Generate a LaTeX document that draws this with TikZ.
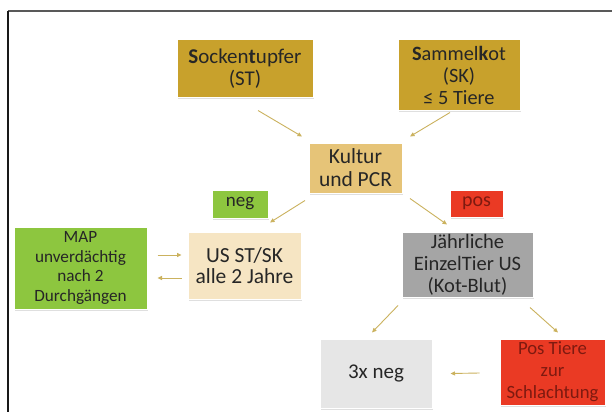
\documentclass[tikz,border=0pt]{standalone}
\usepackage{fontspec}
\setmainfont{Carlito}
\usetikzlibrary{arrows.meta,calc,shadows}
\definecolor{gold}{HTML}{C8A12C}
\definecolor{kult}{HTML}{E6C478}
\definecolor{grn}{HTML}{8DC63F}
\definecolor{beige}{HTML}{F6E5C3}
\definecolor{gry}{HTML}{A5A5A5}
\definecolor{lgry}{HTML}{E6E6E6}
\definecolor{rd}{HTML}{EA3A24}
\definecolor{rdtxt}{HTML}{7E1A10}
\definecolor{txt}{HTML}{262626}
\definecolor{arrc}{HTML}{CBB25E}
\tikzset{
  box/.style={draw=white, line width=1pt, inner sep=0pt, align=center, text=txt,
    drop shadow={shadow xshift=1pt, shadow yshift=-1.5pt, opacity=0.25, fill=gray}},
  fs/.style 2 args={font=\fontsize{#1}{#2}\selectfont},
  arr/.style={draw=arrc, line width=0.9pt, -{Triangle[length=4.5pt,width=4pt]}},
}
\begin{document}
\begin{tikzpicture}[x=1pt,y=-1pt]
\useasboundingbox (0,0) rectangle (612,412);
\fill[white] (0,0) rectangle (612,412);
\draw[color=black!65, line width=1.4pt] (8,11) -- (612,11);
\draw[color=black!90, line width=1.4pt] (8,11) -- (8,412);

\node[box, fs={21}{22}, fill=gold, minimum width=136, minimum height=57] (st) at (245,68.5)
  {\textbf{S}ocken\textbf{t}upfer\\(ST)};
\node[box, fs={20.3}{22}, fill=gold, minimum width=122, minimum height=70] (sk) at (459,75)
  {\textbf{S}ammel\textbf{k}ot\\(SK)\\≤ 5 Tiere};
\node[box, fs={21.5}{23}, fill=kult, minimum width=93, minimum height=50] (kultur) at (355.5,168)
  {Kultur\\und PCR};
\node[box, fs={19}{20}, fill=grn, minimum width=56, minimum height=28] (neg) at (240,204) {neg};
\node[box, fs={20}{20}, fill=rd, text=rdtxt, minimum width=53, minimum height=27] (pos) at (476.5,203.5) {pos};
\node[box, fs={17.2}{19.5}, fill=grn, minimum width=133, minimum height=82] (map) at (80.5,268)
  {MAP\\unverdächtig\\nach 2\\Durchgängen};
\node[box, fs={21.5}{21}, fill=beige, minimum width=113, minimum height=67] (us) at (244.5,265.5)
  {US ST/SK\\alle 2 Jahre};
\node[box, fs={20.5}{22}, fill=gry, minimum width=131, minimum height=65] (jahr) at (467.5,264.5)
  {Jährliche\\EinzelTier US\\(Kot-Blut)};
\node[box, fs={21}{22}, fill=lgry, minimum width=112, minimum height=69] (three) at (376,373.5)
  {3x neg};
\node[box, fs={18.7}{22}, fill=rd, text=rdtxt, minimum width=105, minimum height=66] (postiere) at (552.5,372)
  {Pos Tiere\\zur\\Schlachtung};

\draw[arr] ($(st.south)+(13,13)$) -- ($(kultur.north)+(-53.5,-6)$);
\draw[arr] ($(sk.south)+(-9,2)$) -- ($(kultur.north)+(54.5,-6)$);
\draw[arr] ($(kultur.south)+(-50.5,7)$) -- ($(us.north)+(25.5,-9)$);
\draw[arr] ($(kultur.south)+(54.5,5)$) -- ($(jahr.north)+(-20.5,-7)$);
\draw[arr] ($(jahr.south)+(-69.5,8)$) -- ($(three.north)+(-4,-6)$);
\draw[arr] ($(jahr.south)+(62.5,10)$) -- ($(postiere.north)+(5.5,-6)$);
\draw[arr] ($(postiere.west)+(-20,1)$) -- ($(three.east)+(18,0)$);
\draw[arr] ($(map.east)+(10,-13)$) -- ($(us.west)+(-6,-10.5)$);
\draw[arr] ($(us.west)+(-6,12.5)$) -- ($(map.east)+(10,10)$);
\end{tikzpicture}
\end{document}
